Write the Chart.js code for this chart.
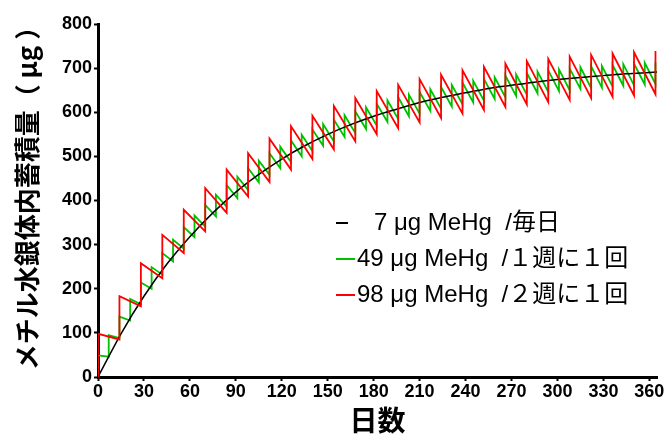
<!DOCTYPE html>
<html>
<head>
<meta charset="utf-8">
<script src="https://cdn.jsdelivr.net/npm/chart.js@4"></script>
<style>
  html, body { margin: 0; padding: 0; background: #fff; }
</style>
</head>
<body>
<canvas id="accChart" width="668" height="438"></canvas>
<script>
// body burden of MeHg (ug)
const blackDays = [0, 15, 30, 45, 60, 75, 90, 105, 120, 135, 150, 165, 180, 195, 210, 225, 240, 255, 270, 285, 300, 315, 330, 345, 360, 365];
const blackValues = [0, 98, 183, 256, 318, 372, 419, 459, 494, 524, 550, 572, 591, 607, 622, 634, 644, 654, 661, 668, 674, 679, 683, 687, 690, 691];

// weekly 49 ug: level just before and just after each intake
const greenDays = [0, 7, 14, 21, 28, 35, 42, 49, 56, 63, 70, 77, 84, 91, 98, 105, 112, 119, 126, 133, 140, 147, 154, 161, 168, 175, 182, 189, 196, 203, 210, 217, 224, 231, 238, 245, 252, 259, 266, 273, 280, 287, 294, 301, 308, 315, 322, 329, 336, 343, 350, 357, 364];
const greenBefore = [0, 46, 88, 128, 165, 200, 232, 262, 291, 317, 341, 364, 386, 405, 424, 441, 458, 473, 487, 500, 512, 524, 534, 544, 553, 562, 570, 578, 585, 591, 597, 603, 608, 613, 618, 622, 626, 630, 634, 637, 640, 643, 646, 648, 650, 653, 655, 656, 658, 660, 661, 663, 664];
const greenAfter = [49, 95, 137, 177, 214, 249, 281, 311, 340, 366, 390, 413, 435, 454, 473, 490, 507, 522, 536, 549, 561, 573, 583, 593, 602, 611, 619, 627, 634, 640, 646, 652, 657, 662, 667, 671, 675, 679, 683, 686, 689, 692, 695, 697, 699, 702, 704, 705, 707, 709, 710, 712, 713];

// every two weeks 98 ug
const redDays = [0, 14, 28, 42, 56, 70, 84, 98, 112, 126, 140, 154, 168, 182, 196, 210, 224, 238, 252, 266, 280, 294, 308, 322, 336, 350, 364];
const redBefore = [0, 85, 160, 224, 281, 330, 372, 409, 442, 470, 494, 516, 534, 550, 564, 577, 587, 597, 605, 612, 618, 623, 628, 632, 635, 638, 641];
const redAfter = [98, 183, 258, 322, 379, 428, 470, 507, 540, 568, 592, 614, 632, 648, 662, 675, 685, 695, 703, 710, 716, 721, 726, 730, 733, 736, 739];

const xTicks = [0, 30, 60, 90, 120, 150, 180, 210, 240, 270, 300, 330, 360];
const yTicks = [0, 100, 200, 300, 400, 500, 600, 700, 800];
const legendLabels = ['7 μg MeHg  /毎日', '49 μg MeHg  /１週に１回', '98 μg MeHg  /２週に１回'];
const legendColors = ['#000000', '#00c000', '#ff0000'];
const yTitle = 'メチル水銀体内蓄積量（ μg ）';

function sawtooth(days, before, after) {
  const pts = [];
  days.forEach((d, i) => {
    pts.push({ x: d, y: before[i] });
    pts.push({ x: d, y: after[i] });
  });
  return pts;
}

const tickFont = { family: 'Liberation Sans', weight: 'bold', size: 18 };

const inlineLegend = {
  id: 'inlineLegend',
  afterDraw(chart) {
    const ctx = chart.ctx;
    ctx.save();
    ctx.font = '24px "Liberation Sans", "Noto Sans CJK JP"';
    ctx.textBaseline = 'middle';
    ctx.fillStyle = '#000';
    legendLabels.forEach((txt, i) => {
      const y = 223 + i * 36;
      ctx.strokeStyle = legendColors[i];
      ctx.lineWidth = 2;
      ctx.beginPath();
      ctx.moveTo(336, y);
      ctx.lineTo(i === 0 ? 348 : 355, y);
      ctx.stroke();
      ctx.fillText(txt, i === 0 ? 374 : 357, y);
    });

    // y axis title, rotated
    ctx.translate(27, 192);
    ctx.rotate(-Math.PI / 2);
    ctx.font = 'bold 26px "Noto Sans CJK JP"';
    ctx.textAlign = 'center';
    ctx.fillText(yTitle, 0, 0);
    ctx.restore();
  }
};

const ctx = document.getElementById('accChart').getContext('2d');
const chart = new Chart(ctx, {
  type: 'line',
  data: {
    datasets: [
      {
        label: legendLabels[2],
        data: sawtooth(redDays, redBefore, redAfter),
        borderColor: '#ff0000',
        borderWidth: 1.8,
        pointRadius: 0,
        tension: 0,
        order: 1
      },
      {
        label: legendLabels[0],
        data: blackDays.map((d, i) => ({ x: d, y: blackValues[i] })),
        borderColor: '#000000',
        borderWidth: 1.5,
        pointRadius: 0,
        cubicInterpolationMode: 'monotone',
        order: 2
      },
      {
        label: legendLabels[1],
        data: sawtooth(greenDays, greenBefore, greenAfter),
        borderColor: '#00c000',
        borderWidth: 1.8,
        pointRadius: 0,
        tension: 0,
        order: 3
      }
    ]
  },
  options: {
    responsive: false,
    animation: false,
    layout: { padding: { top: 24, right: 11, bottom: 0, left: 0 } },
    plugins: {
      legend: { display: false },
      tooltip: { enabled: false }
    },
    scales: {
      x: {
        type: 'linear',
        min: 0,
        max: 365,
        afterBuildTicks: s => { s.ticks = xTicks.map(v => ({ value: v })); },
        afterFit: s => { s.height = 61; },
        ticks: { font: tickFont, color: '#000', padding: 0, maxRotation: 0, autoSkip: false },
        grid: { drawOnChartArea: false, drawTicks: true, tickLength: 4, tickWidth: 2, tickColor: '#000' },
        border: { width: 3, color: '#000' },
        title: {
          display: true,
          text: '日数',
          color: '#000',
          font: { family: 'Noto Sans CJK JP', weight: 'bold', size: 28, lineHeight: 1.2 },
          padding: { top: 0, bottom: 1 }
        }
      },
      y: {
        min: 0,
        max: 800,
        afterBuildTicks: s => { s.ticks = yTicks.map(v => ({ value: v })); },
        afterFit: s => { s.width = 98; },
        ticks: { font: tickFont, color: '#000', padding: 2 },
        grid: { drawOnChartArea: false, drawTicks: true, tickLength: 4, tickWidth: 2, tickColor: '#000' },
        border: { width: 3, color: '#000' }
      }
    }
  },
  plugins: [inlineLegend]
});
</script>
</body>
</html>
